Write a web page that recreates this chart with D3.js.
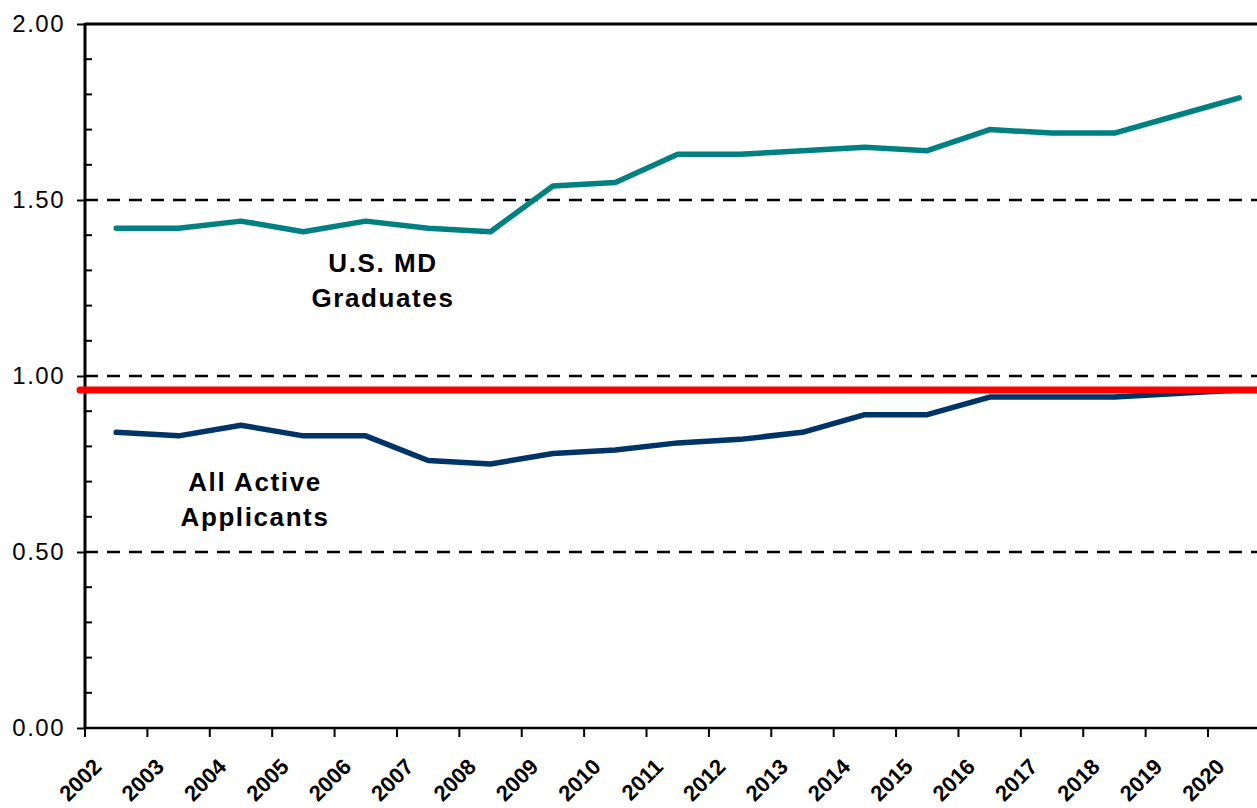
<!DOCTYPE html>
<html>
<head>
<meta charset="utf-8">
<script src="https://cdn.jsdelivr.net/npm/d3@7"></script>
<style>
  body { margin: 0; background: #fff; }
  svg { display: block; font-family: "Liberation Sans", Arial, sans-serif; }
</style>
</head>
<body>
<div id="chart"></div>
<script>
// categories and series
var years = ['2002','2003','2004','2005','2006','2007','2008','2009','2010','2011',
             '2012','2013','2014','2015','2016','2017','2018','2019','2020'];
var graduates = [1.42, 1.42, 1.44, 1.41, 1.44, 1.42, 1.41, 1.54, 1.55, 1.63,
                 1.63, 1.64, 1.65, 1.64, 1.70, 1.69, 1.69, 1.74, 1.79];
var applicants = [0.84, 0.83, 0.86, 0.83, 0.83, 0.76, 0.75, 0.78, 0.79, 0.81,
                  0.82, 0.84, 0.89, 0.89, 0.94, 0.94, 0.94, 0.95, 0.96];
var referenceLine = 0.96;
var yTicks = [0, 0.5, 1, 1.5, 2];
var yMinorTicks = [0.1, 0.2, 0.3, 0.4, 0.6, 0.7, 0.8, 0.9, 1.1, 1.2, 1.3, 1.4, 1.6, 1.7, 1.8, 1.9];

var svgWidth = 1257;
var svgHeight = 808;

var plotLeft = 85, plotTop = 24, plotBottom = 728;
var step = 62.39;

var svg = d3.select('#chart')
    .append('svg')
    .attr('width', svgWidth)
    .attr('height', svgHeight);

var x = d3.scaleBand()
    .domain(years)
    .range([plotLeft, plotLeft + step * years.length])
    .paddingInner(0)
    .paddingOuter(0);

var y = d3.scaleLinear()
    .domain([0, 2])
    .range([plotBottom, plotTop]);

// dashed gridlines (top one reads as solid)
svg.append('g')
    .selectAll('line')
    .data(yTicks.filter(d => d > 0))
    .enter()
    .append('line')
    .attr('x1', plotLeft)
    .attr('x2', svgWidth)
    .attr('y1', d => y(d))
    .attr('y2', d => y(d))
    .attr('stroke', '#000')
    .attr('stroke-width', d => d === 2 ? 3 : 2.3)
    .attr('stroke-dasharray', d => d === 2 ? null : '13,9');

// y axis, major ticks outward
var yAxis = d3.axisLeft(y)
    .tickValues(yTicks)
    .tickSize(8)
    .tickPadding(12)
    .tickFormat(d3.format('.2f'));

var yAxisG = svg.append('g')
    .attr('transform', `translate(${plotLeft},0)`)
    .call(yAxis);
yAxisG.select('.domain').remove();
yAxisG.selectAll('line').attr('stroke', '#000').attr('stroke-width', 2);
yAxisG.selectAll('text')
    .attr('font-size', 24)
    .attr('letter-spacing', 1.5)
    .attr('fill', '#000')
    .style('font-family', '"Liberation Sans", Arial, sans-serif');

// minor ticks inward
svg.append('g')
    .selectAll('line')
    .data(yMinorTicks)
    .enter()
    .append('line')
    .attr('x1', plotLeft)
    .attr('x2', plotLeft + 7)
    .attr('y1', d => y(d))
    .attr('y2', d => y(d))
    .attr('stroke', '#000')
    .attr('stroke-width', 2);

svg.append('line')
    .attr('x1', plotLeft)
    .attr('x2', plotLeft)
    .attr('y1', plotTop - 1)
    .attr('y2', plotBottom + 1)
    .attr('stroke', '#000')
    .attr('stroke-width', 3);

// x axis: ticks at category edges
svg.append('line')
    .attr('x1', plotLeft)
    .attr('x2', svgWidth)
    .attr('y1', plotBottom)
    .attr('y2', plotBottom)
    .attr('stroke', '#000')
    .attr('stroke-width', 2.5);

svg.append('g')
    .selectAll('line')
    .data(years)
    .enter()
    .append('line')
    .attr('x1', d => x(d))
    .attr('x2', d => x(d))
    .attr('y1', plotBottom)
    .attr('y2', plotBottom + 9)
    .attr('stroke', '#000')
    .attr('stroke-width', 2);

svg.append('g')
    .selectAll('text')
    .data(years)
    .enter()
    .append('text')
    .attr('transform', d => `translate(${x(d) + 18},768) rotate(-45)`)
    .attr('text-anchor', 'end')
    .attr('font-size', 22)
    .attr('font-weight', 'bold')
    .attr('fill', '#000')
    .text(d => d);

// series lines
var line = d3.line()
    .x((d, i) => x(years[i]) + x.bandwidth() / 2)
    .y(d => y(d));

svg.append('path')
    .datum(applicants)
    .attr('d', line)
    .attr('fill', 'none')
    .attr('stroke', '#003366')
    .attr('stroke-width', 5.5)
    .attr('stroke-linecap', 'round')
    .attr('stroke-linejoin', 'round');

// reference line, drawn over the applicants line
svg.append('line')
    .attr('x1', 80)
    .attr('x2', svgWidth + 10)
    .attr('y1', y(referenceLine))
    .attr('y2', y(referenceLine))
    .attr('stroke', '#ff0000')
    .attr('stroke-width', 7)
    .attr('stroke-linecap', 'round');

svg.append('path')
    .datum(graduates)
    .attr('d', line)
    .attr('fill', 'none')
    .attr('stroke', '#008080')
    .attr('stroke-width', 5.5)
    .attr('stroke-linecap', 'round')
    .attr('stroke-linejoin', 'round');

// series labels
var labels = [
    {lines: ['U.S. MD', 'Graduates'], x: 383, y: 272},
    {lines: ['All Active', 'Applicants'], x: 255, y: 491}
];

labels.forEach(function(l) {
    var t = svg.append('text')
        .attr('text-anchor', 'middle')
        .attr('font-size', 26)
        .attr('font-weight', 'bold')
        .attr('letter-spacing', 1.6)
        .attr('fill', '#000');
    l.lines.forEach(function(s, i) {
        t.append('tspan')
            .attr('x', l.x)
            .attr('y', l.y + i * 35)
            .text(s);
    });
});
</script>
</body>
</html>
